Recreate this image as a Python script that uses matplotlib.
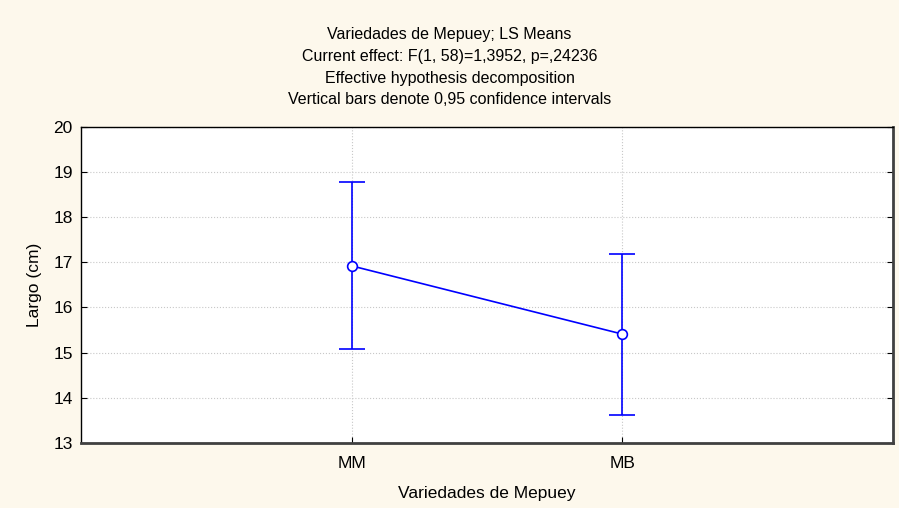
import matplotlib.pyplot as plt

groups = ['MM', 'MB']
means = [16.92, 15.41]
upper = [18.77, 17.19]
lower = [15.08, 13.62]

title_lines = ['Variedades de Mepuey; LS Means',
               'Current effect: F(1, 58)=1,3952, p=,24236',
               'Effective hypothesis decomposition',
               'Vertical bars denote 0,95 confidence intervals']

plt.rcParams['font.family'] = ['Liberation Sans', 'DejaVu Sans']

bg = '#fdf8ec'
fig = plt.figure(figsize=(8.99, 5.08), dpi=100, facecolor=bg)
ax = fig.add_axes([81 / 899, 1 - 443 / 508, 812 / 899, (443 - 126.7) / 508])
ax.set_facecolor('white')

x = list(range(1, len(groups) + 1))
yerr = [[m - l for m, l in zip(means, lower)], [u - m for m, u in zip(means, upper)]]
ax.errorbar(x, means, yerr=yerr, color='#0000ff', lw=1.2, elinewidth=1.2,
            capsize=9.7, capthick=1.2, marker='o', ms=7, mfc='white',
            mec='#0000ff', mew=1.2, zorder=3)

ax.set_xlim(0, 3)
ax.set_ylim(13, 20)
ax.set_xticks(x)
ax.set_xticklabels(groups)
ax.set_yticks(range(13, 21))
ax.grid(True, color='#c8c8c8', linestyle=':', lw=0.8)
ax.tick_params(direction='in', length=4, labelsize=12.5, colors='black', right=True)
ax.tick_params(axis='x', pad=9)
ax.tick_params(axis='y', pad=6)

for s in ['top', 'left']:
    ax.spines[s].set_linewidth(1.0)
    ax.spines[s].set_color('black')
for s in ['bottom', 'right']:
    ax.spines[s].set_linewidth(2.0)
    ax.spines[s].set_color('#404040')

ax.set_xlabel('Variedades de Mepuey', fontsize=12.5, labelpad=11)
ax.set_ylabel('Largo (cm)', fontsize=12.5, labelpad=8)

for i, line in enumerate(title_lines):
    fig.text(0.5, 1 - (34 + i * 22) / 508, line, ha='center', va='center',
             fontsize=11.5)

fig.savefig('out.png', dpi=100, facecolor=bg)
